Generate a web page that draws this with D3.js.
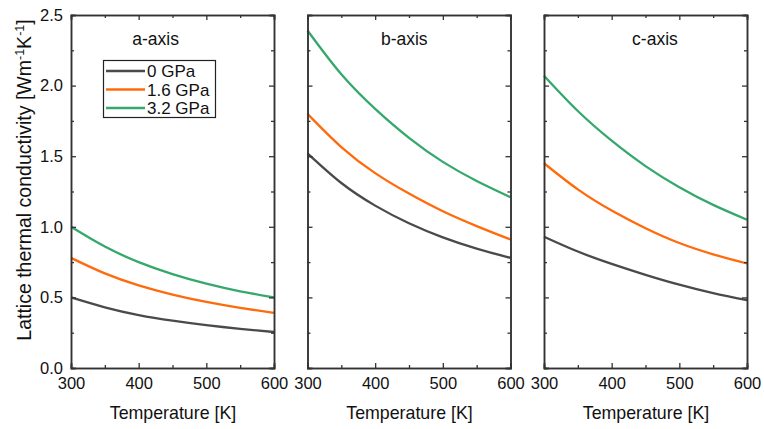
<!DOCTYPE html>
<html><head><meta charset="utf-8">
<script src="https://cdn.jsdelivr.net/npm/d3@7"></script>
<style>body{margin:0;background:#fff}svg{display:block;font-family:"Liberation Sans",Arial,sans-serif}</style>
</head><body><svg id="c" width="764" height="429"></svg>
<script>
const temperatures = [300, 350, 400, 450, 500, 550, 600];
const panels = ["a-axis", "b-axis", "c-axis"];
const seriesNames = ["0 GPa", "1.6 GPa", "3.2 GPa"];
const colors = ["#4a4a4a", "#ff6a0d", "#35a86c"];
// a-axis
const a0 = [0.50, 0.43, 0.375, 0.335, 0.303, 0.277, 0.255];
const a16 = [0.78, 0.67, 0.585, 0.52, 0.468, 0.426, 0.39];
const a32 = [1.00, 0.86, 0.75, 0.665, 0.597, 0.543, 0.50];
// b-axis
const b0 = [1.52, 1.31, 1.15, 1.025, 0.925, 0.845, 0.78];
const b16 = [1.80, 1.565, 1.38, 1.235, 1.11, 1.005, 0.91];
const b32 = [2.39, 2.08, 1.835, 1.63, 1.46, 1.325, 1.21];
// c-axis
const c0 = [0.93, 0.825, 0.737, 0.66, 0.59, 0.53, 0.48];
const c16 = [1.45, 1.265, 1.115, 0.99, 0.885, 0.805, 0.74];
const c32 = [2.07, 1.82, 1.61, 1.43, 1.28, 1.155, 1.05];
const xTicks = [300, 400, 500, 600];
const xMinor = [350, 450, 550];
const yTicks = [0.0, 0.5, 1.0, 1.5, 2.0, 2.5];
const yMinor = [0.25, 0.75, 1.25, 1.75, 2.25];

const panelData = [[a0, a16, a32], [b0, b16, b32], [c0, c16, c32]];
const panelLeft = [71, 307.5, 544];
const panelW = 203;
const plotTop = 15, plotBottom = 368;
const labelT = [425, 443, 464]; // x position (in K) of panel titles

const svg = d3.select("#c");
const y = d3.scaleLinear().domain([0, 2.5]).range([plotBottom, plotTop]);
const axisColor = "#333";

panels.forEach((name, pi) => {
  const x = d3.scaleLinear().domain([300, 600]).range([panelLeft[pi], panelLeft[pi] + panelW]);
  const g = svg.append("g");
  const line = d3.line().x((d, i) => x(temperatures[i])).y(d => y(d)).curve(d3.curveNatural);
  panelData[pi].forEach((vals, si) => {
    g.append("path").datum(vals).attr("d", line).attr("fill", "none")
      .attr("stroke", colors[si]).attr("stroke-width", 2.3);
  });
  g.append("g").attr("transform", `translate(0,${plotBottom})`)
    .call(d3.axisBottom(x).tickValues(xTicks).tickSize(-5).tickPadding(9).tickFormat(d3.format("d")));
  g.append("g").attr("transform", `translate(0,${plotBottom})`)
    .call(d3.axisBottom(x).tickValues(xMinor).tickSize(-3).tickFormat(""));
  g.append("g").attr("transform", `translate(0,${plotTop})`)
    .call(d3.axisTop(x).tickValues(xTicks).tickSize(-5).tickFormat(""));
  g.append("g").attr("transform", `translate(0,${plotTop})`)
    .call(d3.axisTop(x).tickValues(xMinor).tickSize(-3).tickFormat(""));
  g.append("g").attr("transform", `translate(${panelLeft[pi]},0)`)
    .call(d3.axisLeft(y).tickValues(yTicks).tickSize(-5).tickPadding(8).tickFormat(pi === 0 ? d3.format(".1f") : ""));
  g.append("g").attr("transform", `translate(${panelLeft[pi]},0)`)
    .call(d3.axisLeft(y).tickValues(yMinor).tickSize(-3).tickFormat(""));
  g.append("g").attr("transform", `translate(${panelLeft[pi] + panelW},0)`)
    .call(d3.axisRight(y).tickValues(yTicks).tickSize(-5).tickFormat(""));
  g.append("g").attr("transform", `translate(${panelLeft[pi] + panelW},0)`)
    .call(d3.axisRight(y).tickValues(yMinor).tickSize(-3).tickFormat(""));
  g.selectAll(".domain").attr("stroke", axisColor).attr("stroke-width", 1.5);
  g.selectAll(".tick line").attr("stroke", axisColor).attr("stroke-width", 1.3);
  g.selectAll(".tick text").attr("fill", "#111").attr("font-size", 16.5)
    .attr("font-family", "'Liberation Sans', Arial, sans-serif");
  g.append("text").attr("x", panelLeft[pi] + panelW / 2 + 0.5).attr("y", 419)
    .attr("text-anchor", "middle").attr("font-size", 17.8).attr("fill", "#111").text("Temperature [K]");
  g.append("text").attr("x", x(labelT[pi])).attr("y", 45)
    .attr("text-anchor", "middle").attr("font-size", 17.5).attr("fill", "#111").text(name);
});

const lg = svg.append("g");
lg.append("rect").attr("x", 103.5).attr("y", 60.5).attr("width", 112).attr("height", 57)
  .attr("fill", "#fff").attr("stroke", "#222").attr("stroke-width", 1.2);
seriesNames.forEach((s, i) => {
  const yy = 71 + i * 18.5;
  lg.append("line").attr("x1", 106).attr("x2", 145).attr("y1", yy).attr("y2", yy)
    .attr("stroke", colors[i]).attr("stroke-width", 2.5);
  lg.append("text").attr("x", 147).attr("y", yy + 6).attr("font-size", 17).attr("fill", "#111").text(s);
});

const yt = svg.append("text").attr("transform", `translate(31,180) rotate(-90)`)
  .attr("text-anchor", "middle").attr("font-size", 19.5).attr("fill", "#111");
yt.append("tspan").text("Lattice thermal conductivity [Wm");
yt.append("tspan").attr("dy", -7).attr("font-size", 12.5).text("-1");
yt.append("tspan").attr("dy", 7).text("K");
yt.append("tspan").attr("dy", -7).attr("font-size", 12.5).text("-1");
yt.append("tspan").attr("dy", 7).text("]");
</script></body></html>
